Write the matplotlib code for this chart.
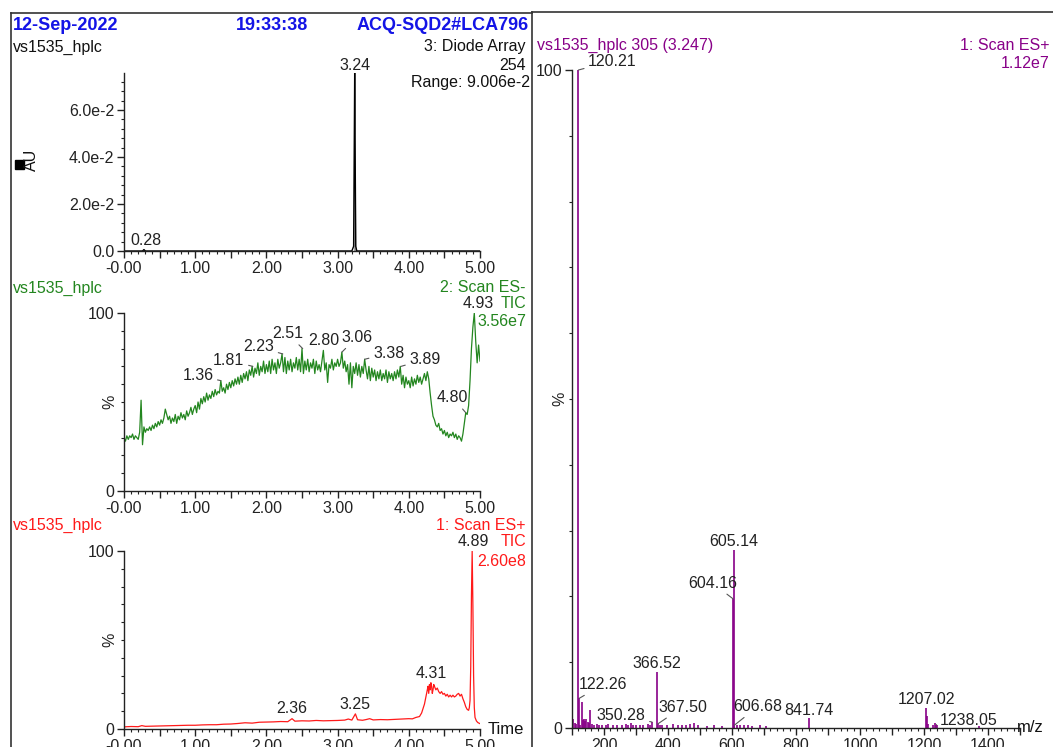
import numpy as np
import matplotlib
matplotlib.use("Agg")
import matplotlib.pyplot as plt
from matplotlib.ticker import MultipleLocator, FuncFormatter
from matplotlib.lines import Line2D
from matplotlib.patches import Rectangle

plt.rcParams["font.family"] = ["Liberation Sans", "DejaVu Sans"]
plt.rcParams["font.size"] = 11.5

W, H = 1053, 747

BLUE = "#1414e6"
GREEN = "#23861f"
RED = "#ff1a1a"
PURPLE = "#880088"

# --- UV (Diode Array 254) ---
uv_t = [0.00, 0.26, 0.28, 0.30, 3.20, 3.225, 3.235, 3.24, 3.245, 3.255, 3.27, 5.00]
uv_v = [0.0, 0.0, 0.0006, 0.0, 0.0, 0.002, 0.05, 0.0757, 0.05, 0.002, 0.0, 0.0]
uv_labels = [(0.28, 0.0006, "0.28", (2, 9)), (3.24, 0.0757, "3.24", (0, 8))]

# --- Scan ES- TIC (%), sampled every 0.02 min ---
esn_v = [
    30, 28, 31, 29, 31, 30, 32, 29, 31, 30,
    29, 33, 51, 26, 36, 33, 35, 34, 36, 34,
    37, 35, 38, 36, 39, 37, 40, 38, 41, 46,
    43, 40, 42, 38, 41, 39, 43, 38, 42, 40,
    44, 41, 43, 40, 45, 42, 44, 47, 43, 46,
    48, 44, 50, 46, 52, 49, 53, 50, 55, 51,
    54, 52, 56, 53, 57, 54, 56, 55, 62, 56,
    58, 55, 60, 57, 61, 58, 62, 59, 63, 60,
    64, 60, 65, 61, 66, 63, 67, 62, 68, 65,
    70, 64, 69, 66, 72, 65, 70, 67, 73, 66,
    71, 67, 73, 66, 74, 68, 72, 66, 74, 69,
    72, 77, 67, 75, 66, 73, 68, 74, 67, 72,
    69, 75, 68, 74, 67, 80, 66, 73, 68, 74,
    67, 72, 69, 74, 66, 73, 68, 71, 67, 73,
    79, 68, 72, 61, 71, 69, 74, 68, 72, 70,
    74, 70, 72, 78, 69, 73, 67, 71, 60, 72,
    58, 70, 66, 72, 65, 71, 64, 70, 66, 74,
    68, 63, 70, 62, 69, 64, 68, 62, 67, 63,
    68, 62, 66, 63, 68, 61, 67, 63, 66, 62,
    67, 63, 68, 64, 70, 60, 65, 58, 64, 60,
    62, 58, 64, 59, 63, 60, 65, 61, 64, 60,
    63, 66, 62, 67, 63, 55, 48, 42, 40, 37,
    36, 38, 34, 35, 32, 34, 31, 33, 30, 32,
    31, 33, 30, 32, 29, 31, 30, 28, 32, 38,
    44, 43, 48, 62, 80, 92, 100, 84, 72, 82, 73,
]
esn_t = np.round(np.arange(len(esn_v)) * 0.02, 2)
esn_labels = [
    (1.36, 62, "1.36", (-23, 5)), (1.81, 70, "1.81", (-24, 6)),
    (2.23, 77, "2.23", (-24, 7)), (2.51, 80, "2.51", (-15, 15)),
    (2.80, 79, "2.80", (0, 10)), (3.06, 78, "3.06", (15, 15)),
    (3.38, 74, "3.38", (24, 6)), (3.89, 70, "3.89", (24, 7)),
    (4.80, 44, "4.80", (-13, 15)), (4.93, 100, "4.93", (3, 10)),
]

# --- Scan ES+ TIC (%) ---
esp_t = [0.00, 0.10, 0.20, 0.25, 0.30, 0.40, 0.50, 0.60, 0.70, 0.80, 0.90, 1.00,
         1.10, 1.20, 1.30, 1.40, 1.50, 1.60, 1.70, 1.80, 1.90, 2.00, 2.10, 2.20,
         2.30, 2.36, 2.40, 2.50, 2.60, 2.70, 2.80, 2.90, 3.00, 3.10, 3.15, 3.20,
         3.25, 3.28, 3.35, 3.40, 3.45, 3.50, 3.60, 3.70, 3.80, 3.90, 4.00, 4.05,
         4.10, 4.15, 4.18, 4.20, 4.22, 4.24, 4.26, 4.27, 4.28, 4.29, 4.30, 4.31,
         4.32, 4.33, 4.34, 4.35, 4.36, 4.38, 4.40, 4.42, 4.44, 4.46, 4.48, 4.50,
         4.52, 4.54, 4.56, 4.58, 4.60, 4.62, 4.64, 4.66, 4.68, 4.70, 4.72, 4.74,
         4.76, 4.78, 4.80, 4.82, 4.84, 4.85, 4.86, 4.87, 4.88, 4.89, 4.90, 4.91,
         4.92, 4.93, 4.95, 4.97, 5.00]
esp_v = [1.2, 1.4, 1.3, 1.9, 1.5, 1.6, 1.7, 1.8, 1.9, 2.0, 2.1, 2.1,
         2.3, 2.4, 2.4, 2.7, 2.8, 3.1, 3.5, 3.3, 3.8, 3.9, 4.0, 4.2,
         4.1, 5.8, 4.4, 4.6, 4.5, 4.8, 4.6, 4.7, 4.8, 5.0, 5.6, 5.0,
         8.5, 5.2, 4.9, 5.3, 5.8, 5.1, 5.3, 5.2, 5.4, 5.6, 5.8, 5.7,
         6.5, 7.0, 9.0, 11.5, 14, 18, 22, 24, 20, 25, 22, 26,
         24, 20, 22, 25, 24, 22, 23, 21, 20, 21, 19.5, 20,
         18.5, 19.5, 18, 19, 18, 19, 18, 18.5, 19.5, 20, 18.5, 19.5,
         17, 15, 12.5, 11, 10.5, 12, 16, 35, 75, 100, 70, 30,
         12, 6.5, 4.5, 3.6, 3.0]
esp_labels = [(2.36, 5.8, "2.36", (0, 10)), (3.25, 8.5, "3.25", (0, 9)),
              (4.31, 26, "4.31", (0, 9)), (4.89, 100, "4.89", (1, 9))]

# --- Mass spectrum, scan 305 (3.247) ---
ms_mz = [102, 108, 112, 120.21, 122.26, 125, 131, 135, 138, 142, 145, 149, 152, 157,
         163, 170, 178, 185, 195, 205, 213, 228, 240, 256, 268, 276, 283, 290, 301,
         312, 323, 338, 344, 350.28, 366.52, 367.50, 374, 382, 398, 415, 430, 443,
         455, 468, 482, 495, 521, 543, 568, 604.16, 605.14, 606.68, 617, 625, 638,
         651, 662, 688, 705, 841.74, 1207.02, 1209, 1211, 1229, 1233, 1238.05, 1240,
         1372]
ms_int = [1.4, 0.8, 0.6, 100, 4.5, 0.5, 4.0, 1.2, 1.3, 1.1, 1.3, 0.9, 0.8, 2.8,
          0.6, 0.5, 0.6, 0.4, 0.5, 0.4, 0.6, 0.5, 0.4, 0.5, 0.6, 0.4, 0.7, 0.5, 0.4,
          0.5, 0.4, 0.6, 0.5, 0.9, 8.5, 0.6, 0.4, 0.5, 0.4, 0.6, 0.4, 0.5,
          0.4, 0.6, 0.8, 0.4, 0.3, 0.4, 0.3, 19.6, 27.0, 0.4, 0.4, 0.5, 0.4,
          0.4, 0.3, 0.4, 0.3, 1.5, 3.1, 1.8, 0.6, 0.5, 0.8, 0.5, 0.4,
          0.3]
ms_labels = [
    (120.21, 100, "120.21", (34, 9)), (122.26, 4.5, "122.26", (24, 14)),
    (350.28, 0.9, "350.28", (-31, 7)), (366.52, 8.5, "366.52", (0, 9)),
    (367.50, 0.6, "367.50", (25, 17)), (604.16, 19.6, "604.16", (-21, 16)),
    (605.14, 27.0, "605.14", (0, 9)), (606.68, 0.4, "606.68", (24, 19)),
    (841.74, 1.5, "841.74", (0, 8)), (1207.02, 3.1, "1207.02", (0, 8)),
    (1238.05, 0.5, "1238.05", (32, 4)),
]


def px_axes(fig, left, top, right, bottom):
    return fig.add_axes([left / W, 1 - bottom / H, (right - left) / W, (bottom - top) / H])


def ftext(fig, x, y, s, **kw):
    kw.setdefault("va", "center")
    fig.text(x / W, 1 - y / H, s, **kw)


def style_axes(ax):
    for side in ["top", "right"]:
        ax.spines[side].set_visible(False)
    for side in ["left", "bottom"]:
        ax.spines[side].set_linewidth(1.0)
        ax.spines[side].set_color("#222222")
    ax.tick_params(which="major", length=5, width=1, color="#222222", pad=2,
                   labelcolor="#222222", labelsize=11.5)
    ax.tick_params(which="minor", length=2.5, width=0.8, color="#222222")
    ax.patch.set_alpha(0)


def time_axis(ax):
    ax.set_xlim(0, 5)
    ax.xaxis.set_major_locator(MultipleLocator(0.5))
    ax.xaxis.set_minor_locator(MultipleLocator(0.1))
    ax.xaxis.set_major_formatter(FuncFormatter(
        lambda v, p: "" if abs(v - round(v)) > 1e-6 else ("-0.00" if abs(v) < 1e-6 else f"{v:.2f}")))


def pct_axis(ax, label_x):
    ax.set_ylim(0, 100)
    ax.set_yticks([0, 100])
    ax.yaxis.set_minor_locator(MultipleLocator(10))
    ax.set_ylabel("%", rotation=90, color="#222222")
    ax.yaxis.set_label_coords(label_x, 0.5)


def label_peaks(ax, labels, color="#222222"):
    for x, y, s, off in labels:
        lead = abs(off[0]) > 6
        ax.annotate(s, xy=(x, y), xytext=off, textcoords="offset pixels",
                    ha="center", va="center", color=color, fontsize=11.5,
                    annotation_clip=False,
                    arrowprops=dict(arrowstyle="-", color="#555555", lw=0.8,
                                    shrinkA=1, shrinkB=0) if lead else None)


fig = plt.figure(figsize=(W / 100, H / 100), dpi=100)

# frames
fig.add_artist(Line2D([11 / W, 11 / W], [0, 1 - 13 / H], color="#333333", lw=1.2, transform=fig.transFigure))
fig.add_artist(Line2D([11 / W, 532 / W], [1 - 13 / H, 1 - 13 / H], color="#333333", lw=1.2, transform=fig.transFigure))
fig.add_artist(Line2D([532 / W, 532 / W], [0, 1 - 12 / H], color="#333333", lw=1.2, transform=fig.transFigure))
fig.add_artist(Line2D([532 / W, 1], [1 - 12 / H, 1 - 12 / H], color="#333333", lw=1.2, transform=fig.transFigure))

# header
ftext(fig, 13, 26, "12-Sep-2022", color=BLUE, fontsize=13, fontweight="bold")
ftext(fig, 272, 26, "19:33:38", color=BLUE, fontsize=13, fontweight="bold", ha="center")
ftext(fig, 529, 26, "ACQ-SQD2#LCA796", color=BLUE, fontsize=13, fontweight="bold", ha="right")

# ---- panel 1: UV ----
ax1 = px_axes(fig, 124, 73, 480, 251)
style_axes(ax1)
ax1.plot(uv_t, uv_v, color="black", lw=1.0)
ax1.fill_between(uv_t, uv_v, where=[3.2 < t < 3.27 for t in uv_t], color="#999999", lw=0)
time_axis(ax1)
ax1.set_ylim(0, 0.0757)
ax1.yaxis.set_major_locator(MultipleLocator(0.02))
ax1.yaxis.set_minor_locator(MultipleLocator(0.004))
ax1.yaxis.set_major_formatter(FuncFormatter(lambda v, p: "0.0" if abs(v) < 1e-9 else f"{v * 100:.1f}e-2"))
label_peaks(ax1, uv_labels)
ftext(fig, 13, 47, "vs1535_hplc", color="#111111")
ftext(fig, 526, 47, "3: Diode Array", color="#111111", ha="right")
ftext(fig, 526, 65, "254", color="#111111", ha="right")
ftext(fig, 530, 83, "Range: 9.006e-2", color="#111111", ha="right")
fig.add_artist(Rectangle((15 / W, 1 - 169 / H), 9 / W, 9 / H, color="black", transform=fig.transFigure))
ftext(fig, 31, 160, "AU", rotation=90, ha="center", color="#111111")

# ---- panel 2: ES- ----
ax2 = px_axes(fig, 124, 313, 480, 491)
style_axes(ax2)
ax2.plot(esn_t, esn_v, color=GREEN, lw=0.9)
time_axis(ax2)
pct_axis(ax2, -0.02)
label_peaks(ax2, esn_labels)
ftext(fig, 13, 288, "vs1535_hplc", color=GREEN)
ftext(fig, 526, 288, "2: Scan ES-", color=GREEN, ha="right")
ftext(fig, 526, 304, "TIC", color=GREEN, ha="right")
ftext(fig, 526, 322, "3.56e7", color=GREEN, ha="right")

# ---- panel 3: ES+ ----
ax3 = px_axes(fig, 124, 551, 480, 729)
style_axes(ax3)
ax3.plot(esp_t, esp_v, color=RED, lw=0.9)
time_axis(ax3)
pct_axis(ax3, -0.02)
label_peaks(ax3, esp_labels)
ftext(fig, 13, 525, "vs1535_hplc", color=RED)
ftext(fig, 526, 525, "1: Scan ES+", color=RED, ha="right")
ftext(fig, 526, 542, "TIC", color=RED, ha="right")
ftext(fig, 526, 561, "2.60e8", color=RED, ha="right")
ftext(fig, 488, 730, "Time", color="#111111", fontsize=12)

# ---- mass spectrum ----
ax4 = px_axes(fig, 572, 70, 1020, 728)
style_axes(ax4)
ax4.vlines(ms_mz, 0, ms_int, color=PURPLE, lw=1.2)
ax4.set_xlim(100, 1500)
ax4.xaxis.set_major_locator(MultipleLocator(100))
ax4.xaxis.set_minor_locator(MultipleLocator(20))
ax4.xaxis.set_major_formatter(FuncFormatter(lambda v, p: f"{int(v)}" if int(round(v)) % 200 == 0 else ""))
pct_axis(ax4, -0.011)
label_peaks(ax4, ms_labels)
ftext(fig, 537, 45, "vs1535_hplc 305 (3.247)", color=PURPLE)
ftext(fig, 1050, 45, "1: Scan ES+", color=PURPLE, ha="right")
ftext(fig, 1050, 63, "1.12e7", color=PURPLE, ha="right")
ftext(fig, 1030, 728, "m/z", color="#111111", ha="center", fontsize=12)

fig.savefig("out.png", dpi=100)
